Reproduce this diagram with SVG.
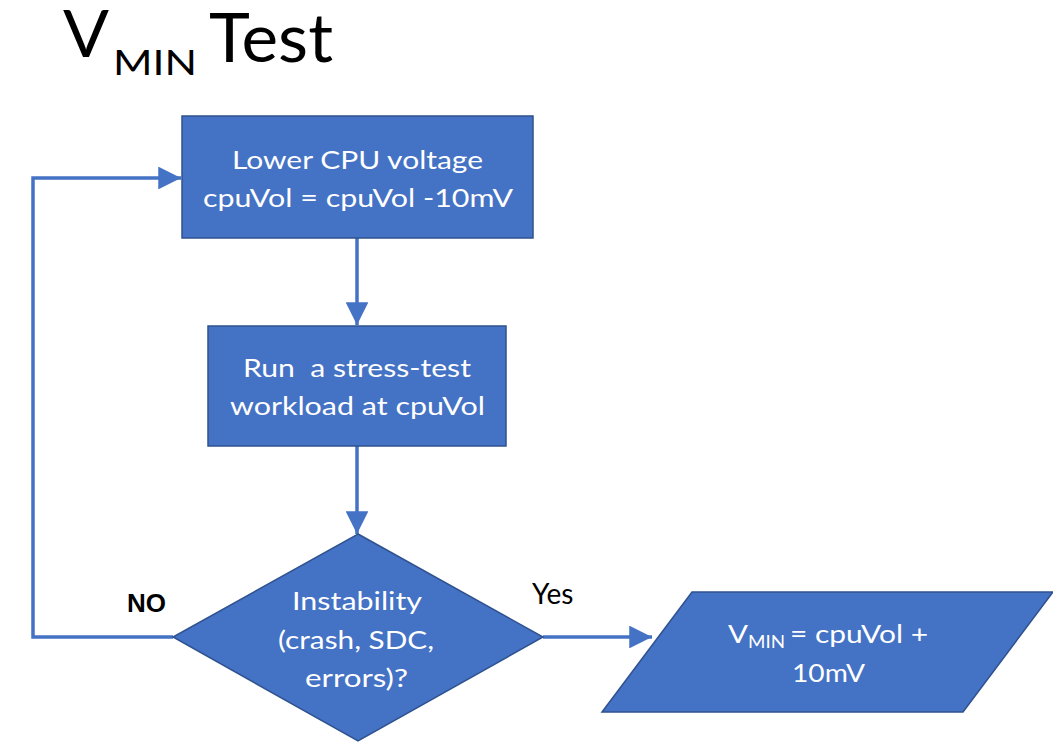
<svg xmlns="http://www.w3.org/2000/svg" width="1053" height="743" viewBox="0 0 1053 743">
  <style>
    .shape { fill: #4472C4; stroke: #2F528F; stroke-width: 1.5; }
    .conn { fill: none; stroke: #4472C4; stroke-width: 3.5; }
    .lbl { font-family: Lato, "Open Sans", sans-serif; font-size: 25px; fill: #ffffff; text-anchor: middle; }
    .title { font-family: Lato, "Open Sans", sans-serif; fill: #000000; }
  </style>
  <defs>
    <marker id="arrow" viewBox="0 0 10 10" refX="10" refY="5" markerWidth="6.5" markerHeight="6.5" markerUnits="strokeWidth" orient="auto">
      <path d="M0,0 L10,5 L0,10 z" fill="#4472C4"/>
    </marker>
  </defs>
  <rect width="1053" height="743" fill="#ffffff"/>
  <g id="title">
    <text class="title" x="63" y="57" font-size="66" textLength="46" lengthAdjust="spacingAndGlyphs">V</text>
    <text class="title" x="113" y="75" font-size="35" textLength="84" lengthAdjust="spacingAndGlyphs">MIN</text>
    <text class="title" x="209" y="62" font-size="68" textLength="124" lengthAdjust="spacingAndGlyphs">Test</text>
  </g>
  <g id="connectors">
    <line class="conn" x1="357" y1="238" x2="357" y2="325" marker-end="url(#arrow)"/>
    <line class="conn" x1="357" y1="446" x2="357" y2="534" marker-end="url(#arrow)"/>
    <polyline class="conn" points="173,637 33,637 33,178 181,178" marker-end="url(#arrow)"/>
    <line class="conn" x1="543" y1="637" x2="652" y2="637" marker-end="url(#arrow)"/>
    <text x="127" y="612" font-size="26" font-family="Liberation Sans, Arial, sans-serif" font-weight="bold" fill="#000000">NO</text>
    <text x="532" y="604" font-size="28" font-family="Lato, sans-serif" fill="#000000">Yes</text>
  </g>
  <g id="node-lower">
    <rect class="shape" x="182" y="116" width="351" height="122"/>
    <text class="lbl" x="357.5" y="169" textLength="251" lengthAdjust="spacingAndGlyphs">Lower CPU voltage</text>
    <text class="lbl" x="358" y="207" textLength="310" lengthAdjust="spacingAndGlyphs">cpuVol = cpuVol -10mV</text>
  </g>
  <g id="node-run">
    <rect class="shape" x="208" y="326" width="298" height="120"/>
    <text class="lbl" x="357" y="377" textLength="228" lengthAdjust="spacingAndGlyphs" xml:space="preserve">Run  a stress-test</text>
    <text class="lbl" x="357.5" y="415" textLength="255" lengthAdjust="spacingAndGlyphs">workload at cpuVol</text>
  </g>
  <g id="node-decision">
    <polygon class="shape" points="358,534 543,637 358,741 173,637"/>
    <text class="lbl" x="357" y="610" textLength="130" lengthAdjust="spacingAndGlyphs">Instability</text>
    <text class="lbl" x="356" y="649" textLength="156" lengthAdjust="spacingAndGlyphs">(crash, SDC,</text>
    <text class="lbl" x="356.5" y="687" textLength="103" lengthAdjust="spacingAndGlyphs">errors)?</text>
  </g>
  <g id="node-result">
    <polygon class="shape" points="692,592 1053,592 963,712 602,712"/>
    <text x="728" y="643" font-family="Lato, 'Open Sans', sans-serif" font-size="25" fill="#ffffff" textLength="20" lengthAdjust="spacingAndGlyphs">V</text>
    <text x="748" y="648" font-family="Lato, 'Open Sans', sans-serif" font-size="17" fill="#ffffff" textLength="37" lengthAdjust="spacingAndGlyphs">MIN</text>
    <text x="790" y="643" font-family="Lato, 'Open Sans', sans-serif" font-size="25" fill="#ffffff" textLength="138" lengthAdjust="spacingAndGlyphs">= cpuVol +</text>
    <text class="lbl" x="828.5" y="682" textLength="73" lengthAdjust="spacingAndGlyphs">10mV</text>
  </g>
</svg>
